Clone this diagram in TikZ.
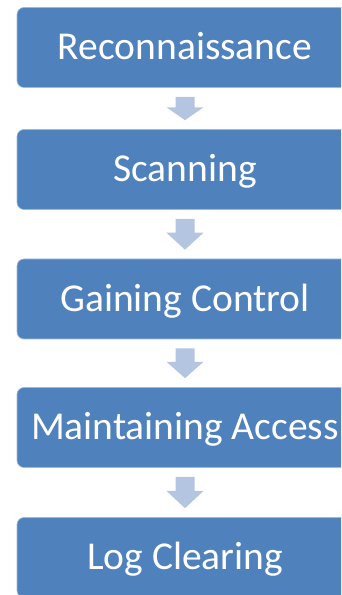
\documentclass[tikz,border=0pt]{standalone}
\usepackage{fontspec}
\setmainfont{Carlito}
\usetikzlibrary{calc}

\definecolor{stepblue}{RGB}{79,129,189}
\definecolor{arrowblue}{RGB}{180,197,225}

\begin{document}
\begin{tikzpicture}[x=1pt,y=1pt,
    phase/.style={fill=stepblue, draw=stepblue!55!white, line width=0.6pt,
      rounded corners=7pt, minimum width=336pt, minimum height=80pt,
      inner sep=0pt, text=white, font=\fontsize{39.5}{45}\selectfont,
      text height=25pt, text depth=0pt}]
        \clip (0,0) rectangle (341,595);

        \node[phase] (recon) at (185,547.5) {Reconnaissance};
        \node[phase] (scan)  at (185,425.5) {Scanning};
        \node[phase] (gain)  at (185,296)   {Gaining Control};
        \node[phase] (maint) at (185,167.5) {Maintaining Access};
        \node[phase] (logs)  at (185,37.5)  {Log Clearing};

        \foreach \a/\b in {recon/scan, scan/gain, gain/maint, maint/logs}{
            \coordinate (top) at ($(\a.south)+(0,-9)$);
            \coordinate (tip) at ($(\b.north)+(0,9)$);
            \coordinate (neck) at ($(top)!0.45!(tip)$);
            \fill[arrowblue] ($(top)+(-9.5,0)$) -- ($(top)+(9.5,0)$)
                -- ($(neck)+(9.5,0)$) -- ($(neck)+(18.5,0)$) -- (tip)
                -- ($(neck)+(-18.5,0)$) -- ($(neck)+(-9.5,0)$) -- cycle;
        }
    \end{tikzpicture}
\end{document}
